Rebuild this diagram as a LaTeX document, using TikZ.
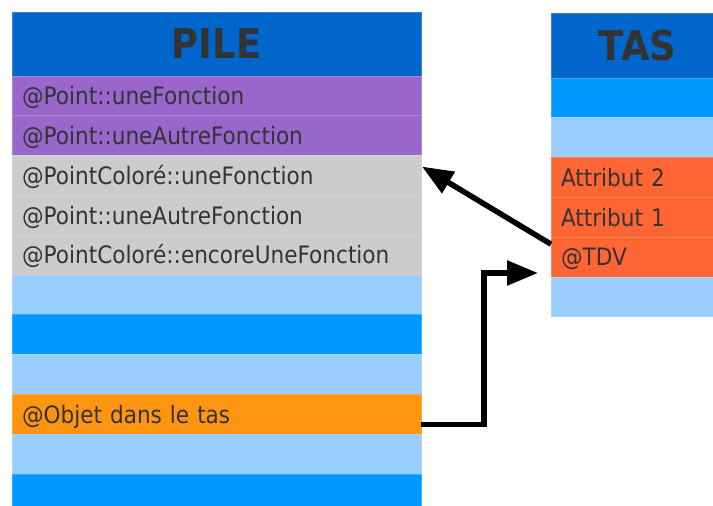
\documentclass[tikz,border=0pt]{standalone}
\usepackage{fontspec}
\usepackage{tikz}
\usetikzlibrary{positioning,arrows.meta}

\newfontfamily\dejavu[FakeStretch=0.9]{DejaVu Sans}
\definecolor{entete}{HTML}{0066CC}
\definecolor{violet}{HTML}{9966CC}
\definecolor{gris}{HTML}{CCCCCC}
\definecolor{clair}{HTML}{99CCFF}
\definecolor{bleu}{HTML}{0099FF}
\definecolor{orange}{HTML}{FF9411}
\definecolor{rouge}{HTML}{FF6633}
\definecolor{encre}{HTML}{333333}

\tikzset{
  cell/.style = {fill = #1, draw = #1!80!white, line width = 0.8pt, shape = rectangle,
    minimum width = 409pt, minimum height = 39.8pt, text width = 389pt,
    inner xsep = 10pt, inner ysep = 0pt, outer sep = 0pt, align = left,
    text height = 17.5pt, text depth = 0pt, text = encre,
    font = \dejavu\fontsize{24pt}{28pt}\selectfont},
  tascell/.style = {cell = #1, minimum width = 173pt, text width = 153pt},
  titre/.style = {fill = entete, draw = entete!80!white, line width = 0.8pt,
    shape = rectangle, minimum width = 409pt, minimum height = 64pt,
    outer sep = 0pt, text = encre,
    font = \dejavu\bfseries\fontsize{41pt}{46pt}\selectfont},
  fleche/.style = {line width = 5.5pt, -{Triangle[length = 31pt, width = 24pt]}}
}

\begin{document}
\begin{tikzpicture}
\useasboundingbox (0,0) rectangle (713pt,-506pt);

% la pile
\node[titre, anchor = north west] (pile) at (12pt,-12pt) {PILE};
\node[cell = violet, below = 0pt of pile] (p1) {@Point::uneFonction};
\node[cell = violet, below = 0pt of p1] (p2) {@Point::uneAutreFonction};
\node[cell = gris, below = 0pt of p2] (pc1) {@PointColoré::uneFonction};
\node[cell = gris, below = 0pt of pc1] (p3) {@Point::uneAutreFonction};
\node[cell = gris, below = 0pt of p3] (pc2) {@PointColoré::encoreUneFonction};
\node[cell = clair, below = 0pt of pc2] (v1) {};
\node[cell = bleu, below = 0pt of v1] (v2) {};
\node[cell = clair, below = 0pt of v2] (v3) {};
\node[cell = orange, below = 0pt of v3] (objet) {@Objet dans le tas};
\node[cell = clair, below = 0pt of objet] (v4) {};
\node[cell = bleu, below = 0pt of v4] (v5) {};

% le tas
\node[titre, minimum width = 173pt, minimum height = 65pt, anchor = north west] (tas) at (551pt,-13pt) {TAS};
\node[tascell = bleu, below = 0pt of tas] (t1) {};
\node[tascell = clair, below = 0pt of t1] (t2) {};
\node[tascell = rouge, below = 0pt of t2] (attr2) {Attribut 2};
\node[tascell = rouge, below = 0pt of attr2] (attr1) {Attribut 1};
\node[tascell = rouge, below = 0pt of attr1] (tdv) {@TDV};
\node[tascell = clair, below = 0pt of tdv] (t3) {};

% les fleches
\coordinate (cible) at ([xshift = -13pt, yshift = 4pt]tdv.south west);
\coordinate (coude) at ([xshift = -54pt]cible);
\draw[fleche] ([yshift = -7pt]tdv.north west) -- ([xshift = 1pt, yshift = -11pt]pc1.north east);
\draw[fleche] ([yshift = -10pt]objet.east) -| (coude) -- (cible);
\end{tikzpicture}
\end{document}
